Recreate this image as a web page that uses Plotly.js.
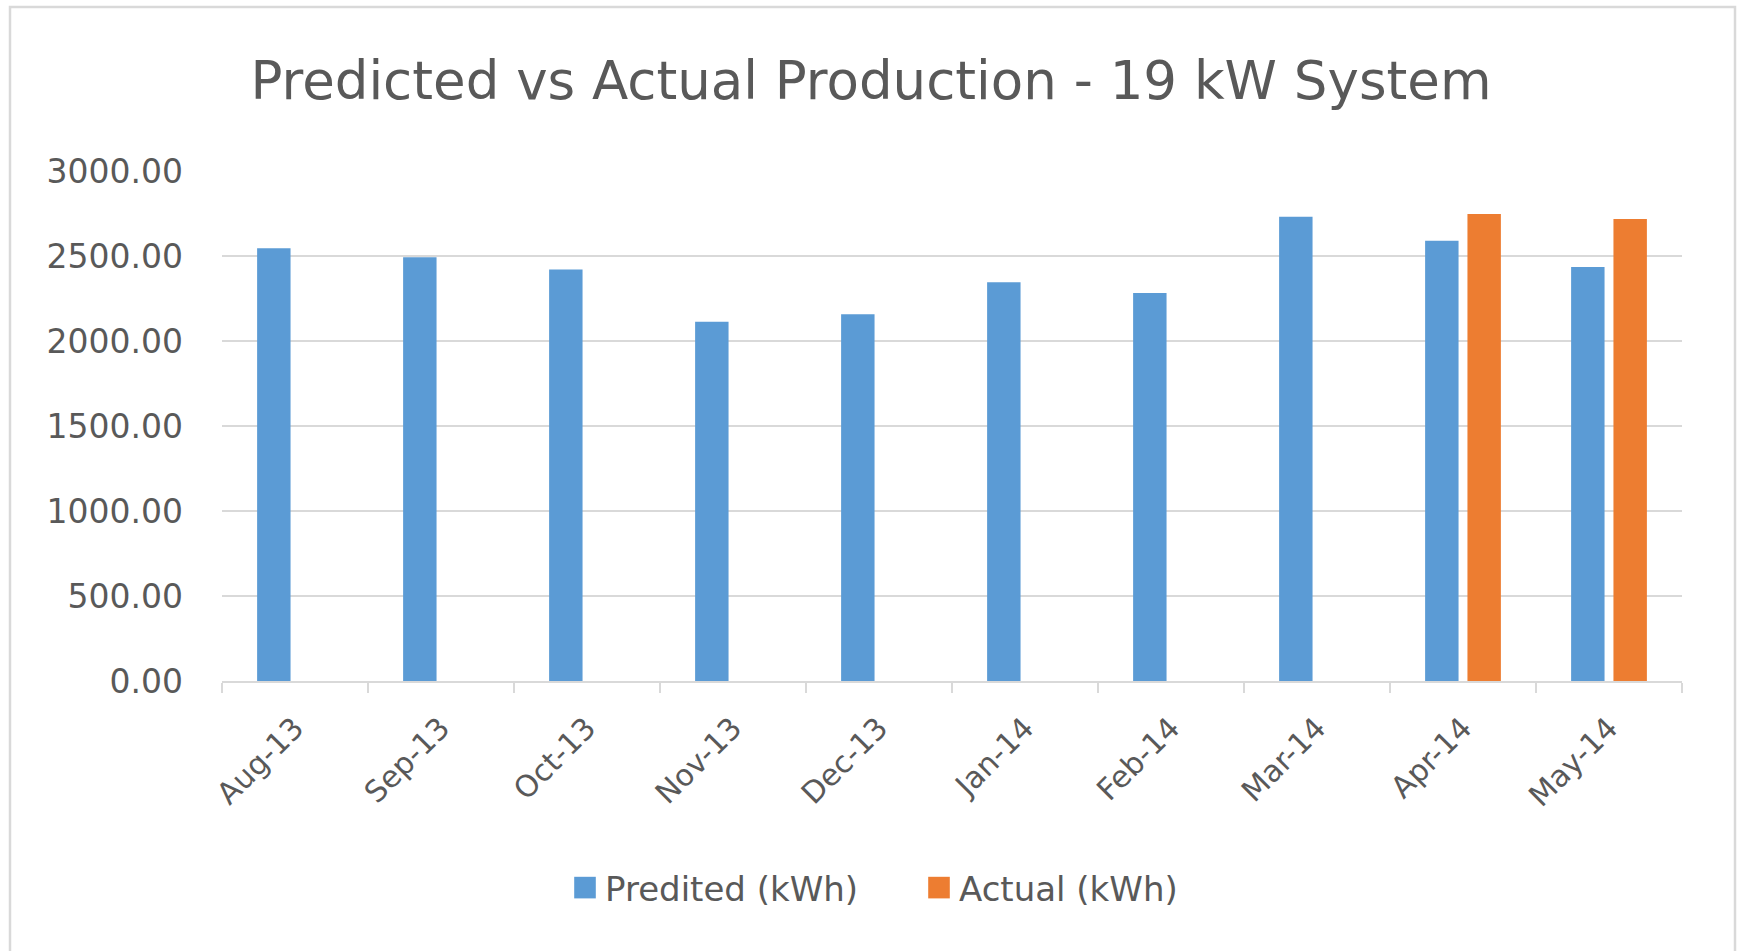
<!DOCTYPE html>
<html>
<head>
<meta charset="utf-8">
<script src="https://cdn.plot.ly/plotly-3.0.1.min.js"></script>
<style>
  html, body { margin: 0; padding: 0; background: #ffffff; }
  #chart { width: 1741px; height: 951px; }
</style>
</head>
<body>
<div id="chart"></div>
<script>
const categories = ['Aug-13','Sep-13','Oct-13','Nov-13','Dec-13','Jan-14','Feb-14','Mar-14','Apr-14','May-14'];
const predicted = [2545, 2492, 2420, 2113, 2157, 2345, 2282, 2731, 2590, 2435];
const actual = [null, null, null, null, null, null, null, null, 2747, 2718];
const seriesNames = ['Predited (kWh)', 'Actual (kWh)'];
const yTicks = [0, 500, 1000, 1500, 2000, 2500, 3000];

const W = 1741, H = 951;
const margin = {l: 222, r: 59, t: 171, b: 270};
const pw = W - margin.l - margin.r, ph = H - margin.t - margin.b;
const px = v => (v - margin.l) / pw;
const py = v => (H - margin.b - v) / ph;

const font = '"DejaVu Sans", "Open Sans", sans-serif';
const textColor = '#595959';

const traces = [
  {type: 'bar', name: seriesNames[0], x: categories, y: predicted, legend: 'legend',
   marker: {color: '#5b9bd5'}, hoverinfo: 'x+y'},
  {type: 'bar', name: seriesNames[1], x: categories, y: actual, legend: 'legend2',
   marker: {color: '#ed7d31'}, hoverinfo: 'x+y'}
];

const legendFont = {family: font, size: 34, color: textColor};

const layout = {
  width: W, height: H,
  margin: margin,
  paper_bgcolor: '#ffffff',
  plot_bgcolor: '#ffffff',
  font: {family: font, color: textColor},
  title: {text: 'Predicted vs Actual Production - 19 kW System',
          font: {family: font, size: 53, color: textColor},
          x: 871 / W, xref: 'container', xanchor: 'center', y: 1 - 80 / H, yanchor: 'middle', yref: 'container'},
  barmode: 'group',
  bargap: 0.42,
  bargroupgap: 0.21,
  xaxis: {type: 'category', showgrid: false, zeroline: false,
          showline: true, linecolor: '#d9d9d9', linewidth: 1.5,
          ticks: 'outside', tickson: 'boundaries', ticklen: 10, tickcolor: '#d9d9d9', tickwidth: 1.5,
          ticklabelstandoff: 16,
          tickangle: -45, tickfont: {family: font, size: 30, color: textColor}},
  yaxis: {range: [0, 3000], tickvals: yTicks, tickformat: '.2f',
          showgrid: true, gridcolor: '#d9d9d9', gridwidth: 1.5,
          zeroline: false, showline: false, ticks: '',
          ticklabelstandoff: 38,
          tickfont: {family: font, size: 33, color: textColor}},
  legend: {orientation: 'h', x: px(565), xanchor: 'left', y: py(888), yanchor: 'middle',
           font: legendFont, itemwidth: 30, bgcolor: 'rgba(0,0,0,0)'},
  legend2: {orientation: 'h', x: px(919), xanchor: 'left', y: py(888), yanchor: 'middle',
           font: legendFont, itemwidth: 30, bgcolor: 'rgba(0,0,0,0)'},
  shapes: [{type: 'rect', xref: 'paper', yref: 'paper',
            x0: px(10), x1: px(1735), y0: py(970), y1: py(7),
            line: {color: '#d9d9d9', width: 2.5}, fillcolor: 'rgba(0,0,0,0)', layer: 'below'}],
  showlegend: true
};

Plotly.newPlot('chart', traces, layout, {displayModeBar: false, staticPlot: true}).then(gd => {
  gd.querySelectorAll('.legendpoints path').forEach(p => {
    const t = p.getAttribute('transform') || '';
    p.setAttribute('transform', t + ' scale(1.8)');
  });
});
</script>
</body>
</html>
